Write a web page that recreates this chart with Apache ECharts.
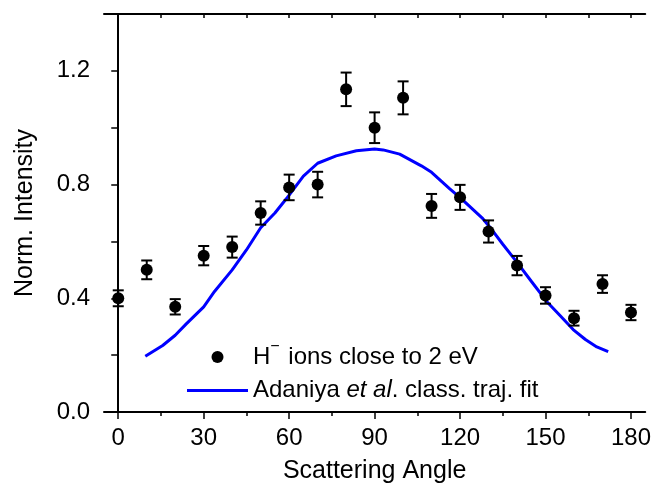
<!DOCTYPE html>
<html>
<head>
<meta charset="utf-8">
<script src="https://cdn.jsdelivr.net/npm/echarts@6/dist/echarts.min.js"></script>
<style>
  html, body { margin: 0; padding: 0; background: #fff; }
  #chart { width: 654px; height: 489px; }
</style>
</head>
<body>
<div id="chart"></div>
<script>
// measured points
const angles = [0, 10, 20, 30, 40, 50, 60, 70, 80, 90, 100, 110, 120, 130, 140, 150, 160, 170, 180];
const intensity = [0.40, 0.50, 0.37, 0.55, 0.58, 0.70, 0.79, 0.80, 1.135, 1.00, 1.105, 0.725, 0.755, 0.635, 0.515, 0.41, 0.33, 0.45, 0.35];
const errors = [0.028, 0.033, 0.027, 0.034, 0.037, 0.041, 0.045, 0.045, 0.059, 0.054, 0.058, 0.042, 0.044, 0.039, 0.034, 0.029, 0.026, 0.031, 0.027];

// fit curve
const fitAngles = [9.5, 15.6, 20, 23.8, 30, 33.8, 40, 45, 50, 55, 59, 65, 70, 76.5, 83.6, 90, 93, 98.8, 106.4, 110, 116.4, 120.5, 128, 130.4, 135, 139.8, 145, 150.4, 155, 159.7, 164, 168, 172];
const fitValues = [0.196, 0.234, 0.27, 0.309, 0.37, 0.424, 0.50, 0.57, 0.648, 0.70, 0.75, 0.83, 0.875, 0.901, 0.919, 0.925, 0.922, 0.907, 0.866, 0.843, 0.785, 0.75, 0.68, 0.651, 0.59, 0.529, 0.46, 0.389, 0.34, 0.29, 0.255, 0.229, 0.212];

// ticks
const xMajor = [0, 30, 60, 90, 120, 150, 180];
const xMinor = [15, 45, 75, 105, 135, 165];
const xAll = [0, 15, 30, 45, 60, 75, 90, 105, 120, 135, 150, 165, 180];
const yLabels = [0, 0.4, 0.8, 1.2];
const yTicks = [0, 0.2, 0.4, 0.6, 0.8, 1.0, 1.2];

const scatterName = 'H\u2212 ions close to 2 eV';
const fitName = 'Adaniya et al. class. traj. fit';

const font = 'Liberation Sans, Arial, Helvetica, sans-serif';
const chart = echarts.init(document.getElementById('chart'));

const points = angles.map((a, i) => [a, intensity[i]]);
const bars = angles.map((a, i) => [a, intensity[i] - errors[i], intensity[i] + errors[i]]);
const fit = fitAngles.map((a, i) => [a, fitValues[i]]);

chart.setOption({
  animation: false,
  backgroundColor: '#fff',
  grid: { left: 104, right: 7, top: 14, bottom: 75 },
  legend: {
    orient: 'vertical',
    left: 182,
    top: 334,
    itemWidth: 61,
    itemHeight: 12,
    itemGap: 9.5,
    symbolKeepAspect: true,
    data: [
      { name: scatterName, icon: 'circle' },
      { name: fitName, icon: 'path://M0,0L61,0L61,3L0,3Z', itemStyle: { color: '#0000ff' } }
    ],
    formatter: function (name) {
      if (name === fitName) return '{n|Adaniya }{i|et al}{n|. class. traj. fit}';
      return '{n|H}{s|\u2212}{n| ions close to 2 eV}';
    },
    textStyle: {
      fontFamily: font,
      fontSize: 24,
      color: '#000',
      rich: {
        n: { fontFamily: font, fontSize: 24, color: '#000', lineHeight: 24 },
        i: { fontFamily: font, fontSize: 24, color: '#000', fontStyle: 'italic', lineHeight: 24 },
        s: { fontFamily: font, fontSize: 16, color: '#000', lineHeight: 16, verticalAlign: 'top', padding: [-6, 2, 0, 0] }
      }
    }
  },
  xAxis: [
    {
      type: 'value', position: 'bottom', min: -5, max: 185,
      name: 'Scattering Angle', nameLocation: 'middle', nameGap: 47,
      nameTextStyle: { fontFamily: font, fontSize: 25, color: '#000' },
      axisLine: { show: true, lineStyle: { color: '#000', width: 2 } },
      axisTick: { show: true, inside: false, length: 7, customValues: xMajor, lineStyle: { color: '#000', width: 1.5 } },
      axisLabel: { customValues: xMajor, fontFamily: font, fontSize: 24, color: '#000', margin: 14 },
      splitLine: { show: false }
    },
    {
      type: 'value', position: 'bottom', min: -5, max: 185,
      axisLine: { show: false },
      axisTick: { show: true, inside: false, length: 4, customValues: xMinor, lineStyle: { color: '#000', width: 1.5 } },
      axisLabel: { show: false },
      splitLine: { show: false }
    },
    {
      type: 'value', position: 'top', min: -5, max: 185,
      axisLine: { show: true, lineStyle: { color: '#000', width: 2 } },
      axisTick: { show: true, inside: true, length: 4, customValues: xAll, lineStyle: { color: '#000', width: 1.5 } },
      axisLabel: { show: false },
      splitLine: { show: false }
    }
  ],
  yAxis: [
    {
      type: 'value', position: 'left', min: 0, max: 1.4,
      name: 'Norm. Intensity', nameLocation: 'middle', nameGap: 66,
      nameTextStyle: { fontFamily: font, fontSize: 25, color: '#000' },
      axisLine: { show: true, lineStyle: { color: '#000', width: 2 } },
      axisTick: { show: true, inside: false, length: 7, customValues: yTicks, lineStyle: { color: '#000', width: 1.5 } },
      axisLabel: {
        customValues: yLabels, fontFamily: font, fontSize: 24, color: '#000', margin: 14,
        formatter: v => v.toFixed(1)
      },
      splitLine: { show: false }
    },
    {
      type: 'value', position: 'right', min: 0, max: 1.4,
      axisLine: { show: true, lineStyle: { color: '#000', width: 2 } },
      axisTick: { show: true, inside: true, length: 4, customValues: yTicks, lineStyle: { color: '#000', width: 1.5 } },
      axisLabel: { show: false },
      splitLine: { show: false }
    }
  ],
  series: [
    {
      name: fitName,
      type: 'line',
      xAxisIndex: 0, yAxisIndex: 0,
      data: fit,
      symbol: 'none',
      smooth: false,
      itemStyle: { color: '#0000ff' },
      lineStyle: { color: '#0000ff', width: 3 },
      z: 2
    },
    {
      type: 'custom',
      xAxisIndex: 0, yAxisIndex: 0,
      data: bars,
      z: 3,
      renderItem: function (params, api) {
        const x = api.value(0);
        const lo = api.coord([x, api.value(1)]);
        const hi = api.coord([x, api.value(2)]);
        const w = 5.5;
        const style = { stroke: '#000', lineWidth: 2 };
        return {
          type: 'group',
          children: [
            { type: 'line', shape: { x1: lo[0], y1: lo[1], x2: hi[0], y2: hi[1] }, style: style },
            { type: 'line', shape: { x1: lo[0] - w, y1: lo[1], x2: lo[0] + w, y2: lo[1] }, style: style },
            { type: 'line', shape: { x1: hi[0] - w, y1: hi[1], x2: hi[0] + w, y2: hi[1] }, style: style }
          ]
        };
      }
    },
    {
      name: scatterName,
      type: 'scatter',
      xAxisIndex: 0, yAxisIndex: 0,
      data: points,
      symbol: 'circle',
      symbolSize: 12,
      itemStyle: { color: '#000', opacity: 1 },
      z: 4
    }
  ]
});
</script>
</body>
</html>
